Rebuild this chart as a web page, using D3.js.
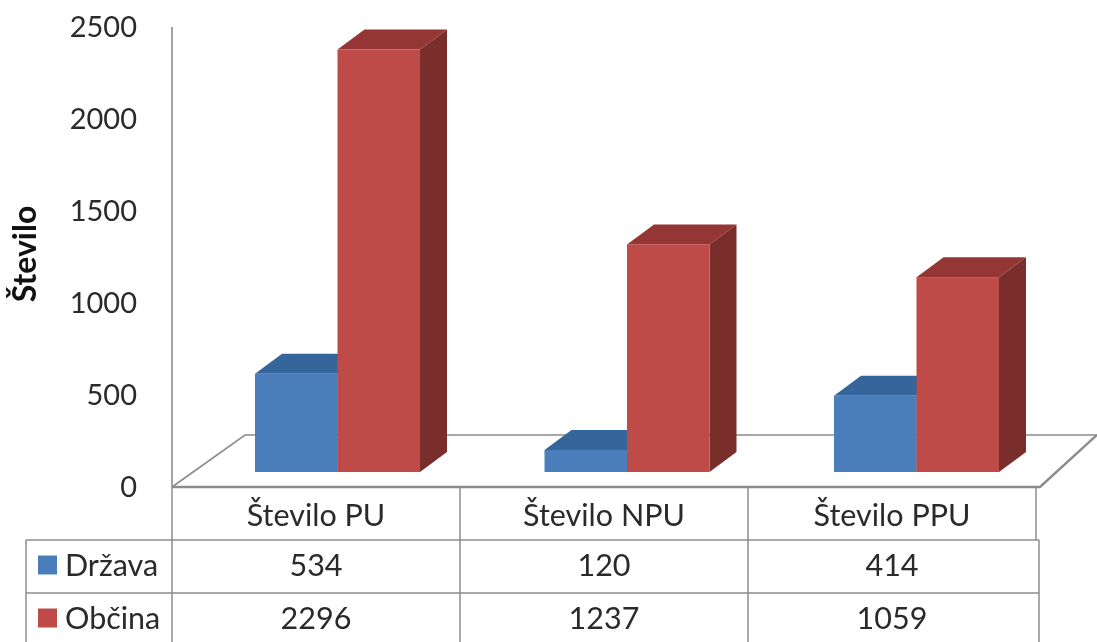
<!DOCTYPE html>
<html><head><meta charset="utf-8">
<script src="https://cdn.jsdelivr.net/npm/d3@7"></script>
<style>html,body{margin:0;padding:0;background:#fff;overflow:hidden}svg{display:block;filter:blur(0.45px)}text{font-family:Lato,"Open Sans",sans-serif;fill:#2a2a2a}</style>
</head><body><svg id="c" width="1097" height="642"></svg>
<script>
const categories=["Število PU","Število NPU","Število PPU"];
const drzava=[534,120,414];
const obcina=[2296,1237,1059];
const seriesNames=["Država","Občina"];
const yTicks=[0,500,1000,1500,2000,2500];
const colors=[{front:"#4a7ebb",top:"#36659c",side:"#2c5480"},{front:"#be4b48",top:"#943634",side:"#7a2e2c"}];
const grid="#8c8c8c";

const svg=d3.select("#c");
const y=d3.scaleLinear().domain([0,2500]).range([487,27]);
const x=d3.scaleBand().domain(categories).range([172,1036]);
const groupX=d3.scaleBand().domain(categories).range([255,1123.5]);
const sub=d3.scaleBand().domain(seriesNames).range([0,165]);
const depth={x:27,y:20}, floor={dx:73,dy:52,front:15,right:1040};

// wall + floor
const g=svg.append("g").attr("fill","none").attr("stroke",grid).attr("stroke-width",1.6);
const base=y(0);
g.append("path").attr("d",`M${x.range()[0]},${y(2500)}V${base}`);
g.append("path").attr("d",`M${x.range()[0]},${base}L${x.range()[0]+floor.dx},${base-floor.dy}H${floor.right+57}`);
g.append("path").attr("stroke-width",2.4).attr("d",`M${x.range()[0]},${base}H${floor.right}L${floor.right+57},${base-floor.dy}`);

// y axis
const ax=svg.append("g").attr("transform","translate(137,0)")
  .call(d3.axisLeft(y).tickValues(yTicks).tickFormat(d3.format("d")).tickSize(0).tickPadding(0));
ax.select(".domain").remove();
ax.selectAll("text").style("font-family","Lato,sans-serif").style("font-size","29px");
svg.append("text").attr("transform","translate(36,254) rotate(-90)").attr("text-anchor","middle")
  .attr("font-size","32px").attr("font-weight","700").style("fill","#111").text("Število");

// bars
const rows=[drzava,obcina];
const barsData=[];
categories.forEach((c,i)=>seriesNames.forEach((s,j)=>barsData.push({c,s,j,v:rows[j][i]})));
const bar=svg.append("g").selectAll("g").data(barsData).join("g");
const bx=d=>groupX(d.c)+sub(d.s);
const bw=sub.bandwidth();
const by=d=>y(d.v)-floor.front;
bar.append("path").attr("fill",d=>colors[d.j].side)
  .attr("d",d=>`M${bx(d)+bw},${by(d)}l${depth.x},${-depth.y}V${base-floor.front-depth.y}l${-depth.x},${depth.y}Z`);
bar.append("path").attr("fill",d=>colors[d.j].top)
  .attr("d",d=>`M${bx(d)},${by(d)}l${depth.x},${-depth.y}h${bw}l${-depth.x},${depth.y}Z`);
bar.append("rect").attr("fill",d=>colors[d.j].front)
  .attr("x",bx).attr("y",by).attr("width",bw).attr("height",d=>base-floor.front-by(d));

// data table
const rowY=[487,540,593,646];
const t=svg.append("g").attr("stroke",grid).attr("stroke-width",1.5).attr("fill","none");
const colX=[...categories.map(c=>x(c)),x.range()[1]];
colX.forEach((cx,i)=>{
  if(i<3) t.append("line").attr("x1",cx).attr("x2",cx).attr("y1",base).attr("y2",646);
  else {
    t.append("line").attr("x1",cx).attr("x2",cx).attr("y1",base).attr("y2",540);
    t.append("line").attr("x1",cx+3).attr("x2",cx+3).attr("y1",540).attr("y2",646);
  }
});
t.append("line").attr("x1",26).attr("x2",26).attr("y1",540).attr("y2",646);
[540,593].forEach(r=>t.append("line").attr("x1",26).attr("x2",1039).attr("y1",r).attr("y2",r));
const tf="30.5px";
svg.append("g").selectAll("text").data(categories).join("text")
  .attr("x",c=>x(c)+x.bandwidth()/2).attr("y",(rowY[0]+rowY[1])/2+2).attr("dy",".35em")
  .attr("text-anchor","middle").attr("font-size",tf).text(c=>c);
rows.forEach((vals,j)=>{
  const cy=(rowY[j+1]+rowY[j+2])/2;
  svg.append("g").selectAll("text").data(vals).join("text")
    .attr("x",(v,i)=>x(categories[i])+x.bandwidth()/2).attr("y",cy-1).attr("dy",".35em")
    .attr("text-anchor","middle").attr("font-size",tf).text(v=>v);
  svg.append("rect").attr("x",38).attr("y",cy-11).attr("width",19).attr("height",19).attr("fill",colors[j].front);
  svg.append("text").attr("x",65).attr("y",cy-1).attr("dy",".35em").attr("font-size",tf).text(seriesNames[j]);
});
</script></body></html>
